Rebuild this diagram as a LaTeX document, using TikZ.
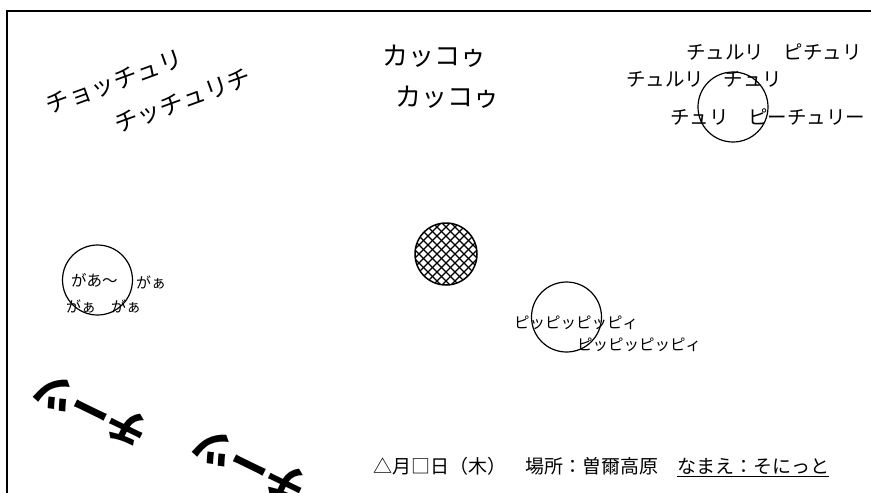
\documentclass[tikz,border=0pt]{standalone}
\usepackage{fontspec}
\setmainfont{Noto Sans CJK JP}
\begin{document}
\begin{tikzpicture}[x=1pt,y=-1pt]
\tikzset{
  fsz/.style={font=\fontsize{#1}{#1}\selectfont},
  txt/.style={inner sep=0pt, anchor=west},
  ring/.style={draw, circle, minimum size=70pt, inner sep=0pt, line width=1.2pt},
  hatchline/.style={line width=1.3pt},
  boldrot/.style={inner sep=0pt, rotate=154, font=\fontsize{40}{40}\selectfont\bfseries},
}
\useasboundingbox (0,0) rectangle (871,493);
\clip (0,0) rectangle (871,493);
\draw[line width=2pt] (7,500) -- (7,11) -- (880,11);

% circles
\node[ring] (c1) at (733,107) {};
\node[ring] (c2) at (97.5,280) {};
\node[ring] (c3) at (566.5,317) {};
\begin{scope}
  \clip (446,254) circle (31pt);
  \foreach \d in {-72,-63,...,72} {
    \draw[hatchline] (446+\d-40,294) -- (446+\d+40,214);
    \draw[hatchline] (446+\d-40,214) -- (446+\d+40,294);
  }
\end{scope}
\node[draw, circle, minimum size=62pt, inner sep=0pt, line width=1.5pt] (hc) at (446,254) {};

% top-left rotated
\node[inner sep=0pt, rotate=20, fsz=24] (t1) at (114.5,82.5) {チョッチュリ};
\node[inner sep=0pt, rotate=20, fsz=24] (t2) at (183,101) {チッチュリチ};

% cuckoo
\node[txt, fsz=26] (k1) at (382,56) {カッコゥ};
\node[txt, fsz=26] (k2) at (395,97) {カッコゥ};

% top right
\node[txt, fsz=19.5] (r1) at (686,52) {チュルリ　ピチュリ};
\node[txt, fsz=19.5] (r2) at (626,79) {チュルリ　チュリ};
\node[txt, fsz=19.5] (r3) at (670,117) {チュリ　ピーチュリー};

% left ducks
\node[txt, fsz=15.5] (g1) at (71,280) {があ～};
\node[txt, fsz=15] (g2) at (136,282) {がぁ};
\node[txt, fsz=15] (g3) at (66,306) {がぁ　がぁ};

% middle right
\node[txt, fsz=15.5] (p1) at (514,323) {ピッピッピッピィ};
\node[txt, fsz=15.5] (p2) at (577,345) {ピッピッピッピィ};

% bottom-left rotated bold
\node[boldrot] (b1) at (91,410) {チーツ};
\node[boldrot] (b2) at (250,465) {チーツ};

% bottom line
\node[txt, fsz=19] (d1) at (373,467) {△月□日（木）　場所：曽爾高原　\underline{なまえ：そにっと}};
\end{tikzpicture}
\end{document}
